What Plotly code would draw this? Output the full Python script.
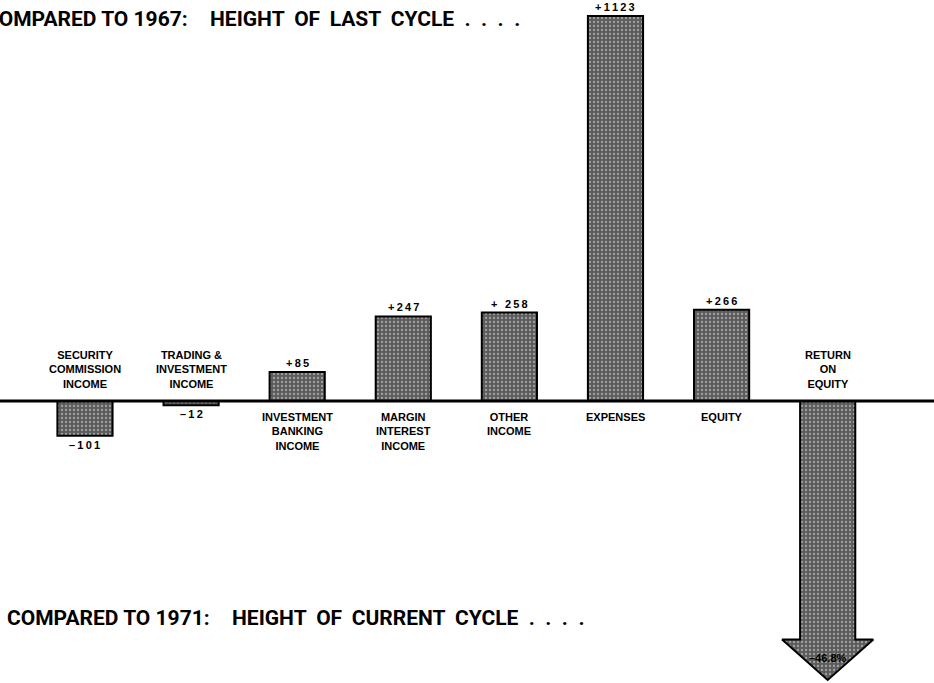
import plotly.graph_objects as go

# ---------------- data ----------------
categories = ["SECURITY<br>COMMISSION<br>INCOME",
              "TRADING &<br>INVESTMENT<br>INCOME",
              "INVESTMENT<br>BANKING<br>INCOME",
              "MARGIN<br>INTEREST<br>INCOME",
              "OTHER<br>INCOME",
              "EXPENSES",
              "EQUITY"]
changes = [-101, -12, 85, 247, 258, 1123, 266]
value_labels = ["–101", "–12", "+85", "+247", "+ 258", "+1123", "+266"]

roe_category = "RETURN<br>ON<br>EQUITY"
roe_change = -46.8
roe_label = "–46.8%"

title_top = ["COMPARED TO 1967:", "HEIGHT OF LAST CYCLE"]
title_bottom = ["COMPARED TO 1971:", "HEIGHT OF CURRENT CYCLE"]
title_dots = "...."

# ---------------- style ----------------
W, H = 934, 683
Y_RANGE = [-822.6, 1170]
PCT_PER_UNIT = 0.0575          # scale of the percent axis vs the $ axis
BAR_W = 0.52
X_RANGE = [-0.801, 8.002]
BAR_BG = "#5c5c5c"
CAT_FONT = dict(family="Liberation Sans, Arial, sans-serif", size=11, color="black", weight="bold")
VAL_FONT = dict(family="Liberation Sans, Arial, sans-serif", size=11, color="black", weight="bold")
BIG_FONT = dict(family="Roboto, Liberation Sans Narrow, sans-serif", size=21, color="black", weight="bold")
pattern = dict(shape=".", fgcolor="#e8e8e8", bgcolor=BAR_BG, size=4, solidity=0.25)
NB = "\u00a0"
WORD_GAP = NB + "\u2009"


def spaced(s):
    return "\u2009".join(s)


def dotted(s):
    return s.replace(" ", WORD_GAP) + "".join(NB * 2 + d for d in title_dots)


xs = list(range(len(changes)))
roe_x = len(changes)

fig = go.Figure()

fig.add_trace(go.Bar(
    x=xs, y=changes, width=BAR_W,
    marker=dict(color=BAR_BG, pattern=pattern, line=dict(color="black", width=2)),
    hoverinfo="skip",
))

# Return-on-equity arrow, on its own percent axis
hw, HW = BAR_W / 2, 0.43
head = 0.145 * abs(roe_change)
v = roe_change
ax = [roe_x - hw, roe_x + hw, roe_x + hw, roe_x + HW, roe_x, roe_x - HW, roe_x - hw, roe_x - hw]
ay = [0, 0, v + head, v + head, v, v + head, v + head, 0]
fig.add_trace(go.Scatter(
    x=ax, y=ay, yaxis="y2", mode="lines", fill="toself",
    fillcolor=BAR_BG, fillpattern=pattern,
    line=dict(color="black", width=2), hoverinfo="skip",
))

ann = []
for x, val, cat, lab in zip(xs, changes, categories, value_labels):
    if val >= 0:
        ann.append(dict(x=x, y=val, text=spaced(lab), yanchor="bottom", yshift=1, font=VAL_FONT))
        ann.append(dict(x=x, y=0, text=cat, yanchor="top", yshift=-8, font=CAT_FONT))
    else:
        ann.append(dict(x=x, y=val, text=spaced(lab), yanchor="top", yshift=-1, font=VAL_FONT))
        ann.append(dict(x=x, y=0, text=cat, yanchor="bottom", yshift=9, font=CAT_FONT))
ann.append(dict(x=roe_x, y=0, text=roe_category, yanchor="bottom", yshift=9, font=CAT_FONT))
for a in ann:
    a.update(xref="x", yref="y", showarrow=False, xanchor="center")
ann.append(dict(x=roe_x, y=v + head * 0.55, xref="x", yref="y2", text=roe_label,
                showarrow=False, xanchor="center", yanchor="middle", font=VAL_FONT))

for (left, right), (x_colon, x_word, y_mid) in zip([title_top, title_bottom],
                                                   [(190, 208, 19), (212, 230, 618)]):
    ann.append(dict(x=x_colon / W, y=1 - y_mid / H, xref="paper", yref="paper", text=left,
                    showarrow=False, xanchor="right", yanchor="middle", font=BIG_FONT))
    ann.append(dict(x=x_word / W, y=1 - y_mid / H, xref="paper", yref="paper", text=dotted(right),
                    showarrow=False, xanchor="left", yanchor="middle", font=BIG_FONT))

fig.update_layout(
    width=W, height=H,
    margin=dict(l=0, r=0, t=0, b=0),
    paper_bgcolor="white", plot_bgcolor="white",
    showlegend=False,
    xaxis=dict(range=X_RANGE, visible=False, fixedrange=True),
    yaxis=dict(range=Y_RANGE, visible=False, fixedrange=True),
    yaxis2=dict(range=[Y_RANGE[0] * PCT_PER_UNIT, Y_RANGE[1] * PCT_PER_UNIT],
                overlaying="y", visible=False, fixedrange=True),
    annotations=ann,
    shapes=[dict(type="line", xref="paper", yref="y", x0=0, x1=1, y0=0, y1=0,
                 line=dict(color="black", width=3), layer="above")],
)

fig.write_html("out.html", config={"displayModeBar": False},
               post_script="document.body.style.margin='0';")
